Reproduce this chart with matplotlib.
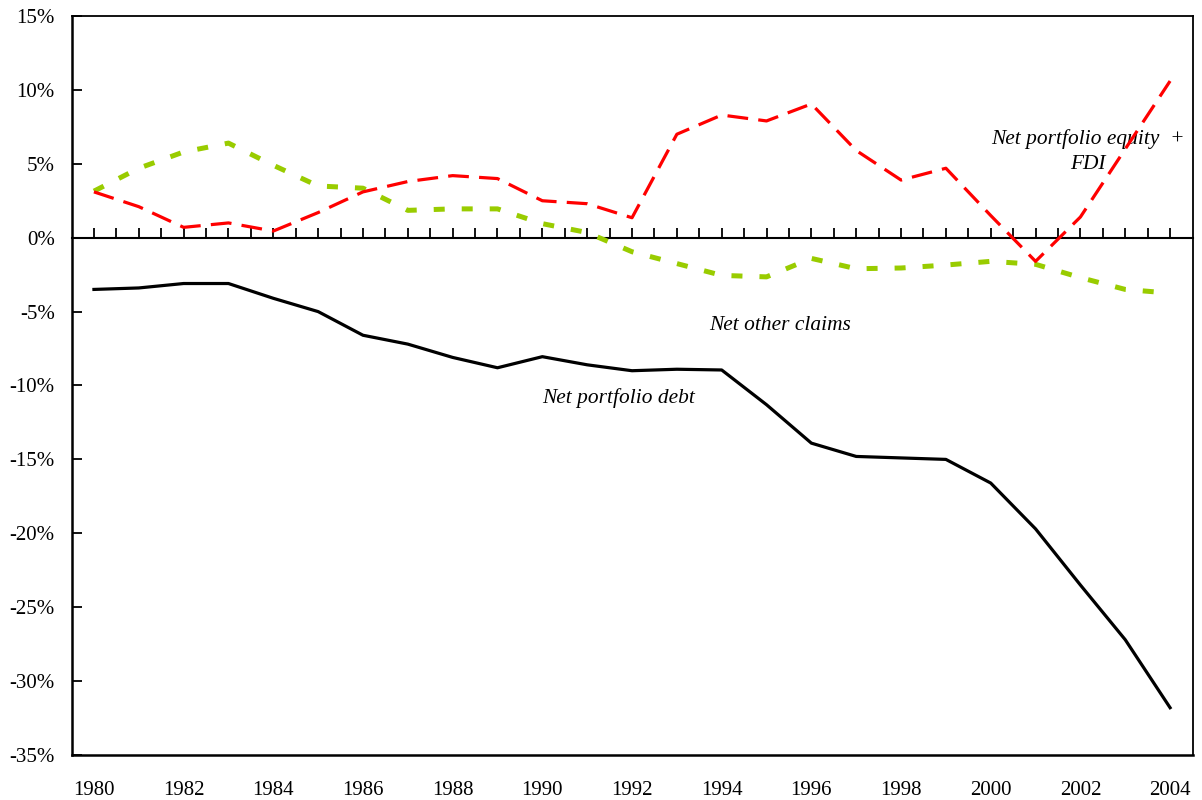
import numpy as np
import matplotlib
matplotlib.use("Agg")
import matplotlib.pyplot as plt
from matplotlib.ticker import FuncFormatter

# Net foreign positions, % of GDP
years = list(range(1980, 2005))

portfolio_debt = [-3.5, -3.4, -3.1, -3.1, -4.1, -5.0, -6.6, -7.2, -8.1, -8.8,
                  -8.05, -8.6, -9.0, -8.9, -8.95, -11.3, -13.9, -14.8, -14.9, -15.0,
                  -16.6, -19.7, -23.5, -27.2, -31.8]

equity_fdi = [3.1, 2.1, 0.7, 1.0, 0.45, 1.7, 3.1, 3.8, 4.2, 4.0,
              2.5, 2.3, 1.35, 7.0, 8.3, 7.9, 9.05, 5.9, 3.9, 4.7,
              1.5, -1.6, 1.4, 6.0, 10.6]

other_claims = [3.15, 4.7, 5.8, 6.4, 4.9, 3.5, 3.35, 1.85, 1.95, 1.95,
                0.95, 0.35, -0.95, -1.75, -2.55, -2.65, -1.4, -2.1, -2.05, -1.85,
                -1.6, -1.8, -2.7, -3.5, -3.75]

y_ticks = list(range(-35, 20, 5))
x_ticks = list(range(1980, 2005, 2))

plt.rcParams['font.family'] = ['Liberation Serif', 'DejaVu Serif']

fig = plt.figure(figsize=(12.02, 8), dpi=100)
ax = fig.add_axes([0.0595, 0.05625, 0.9326, 0.92375])

ax.plot(years, portfolio_debt, color='black', linewidth=2.3, zorder=3)
ax.plot(years, other_claims, color='#99CC00', linewidth=3.6,
        dashes=(2.2, 3.4), dash_capstyle='butt', zorder=4)
ax.plot(years, equity_fdi, color='#FF0000', linewidth=2.3,
        dashes=(6.5, 3.2), dash_capstyle='butt', zorder=5)

ax.set_xlim(1979.5, 2004.5)
ax.set_ylim(-35, 15)

ax.set_yticks(y_ticks)
ax.yaxis.set_major_formatter(FuncFormatter(lambda v, p: f"{int(round(v))}%"))
ax.set_xticks(x_ticks)
ax.set_xticklabels([str(y) for y in x_ticks])

ax.tick_params(axis='y', direction='in', length=7, width=1.3, pad=12, labelsize=15)
ax.tick_params(axis='x', length=0, pad=19, labelsize=15)

for side in ['left', 'bottom']:
    ax.spines[side].set_linewidth(1.8)
for side in ['top', 'right']:
    ax.spines[side].set_linewidth(1.3)

# zero line with half-year ticks
zero_pos = (0 - (-35)) / 50
zax = ax.secondary_xaxis(zero_pos)
zax.set_xticks(np.arange(1980, 2004.01, 0.5))
zax.tick_params(direction='out', length=7.5, width=1.3, labeltop=False, labelbottom=False)
zax.spines['top'].set_linewidth(1.5)
zax.spines['bottom'].set_linewidth(1.5)

lbl = dict(fontsize=15.4, style='italic', ha='center', va='center')
ax.text(2002.17, 5.85, "Net portfolio equity  +\nFDI", linespacing=1.45, **lbl)
ax.text(1995.3, -5.97, "Net other claims", **lbl)
ax.text(1991.7, -10.85, "Net portfolio debt", **lbl)

plt.savefig("out.png", dpi=100)
